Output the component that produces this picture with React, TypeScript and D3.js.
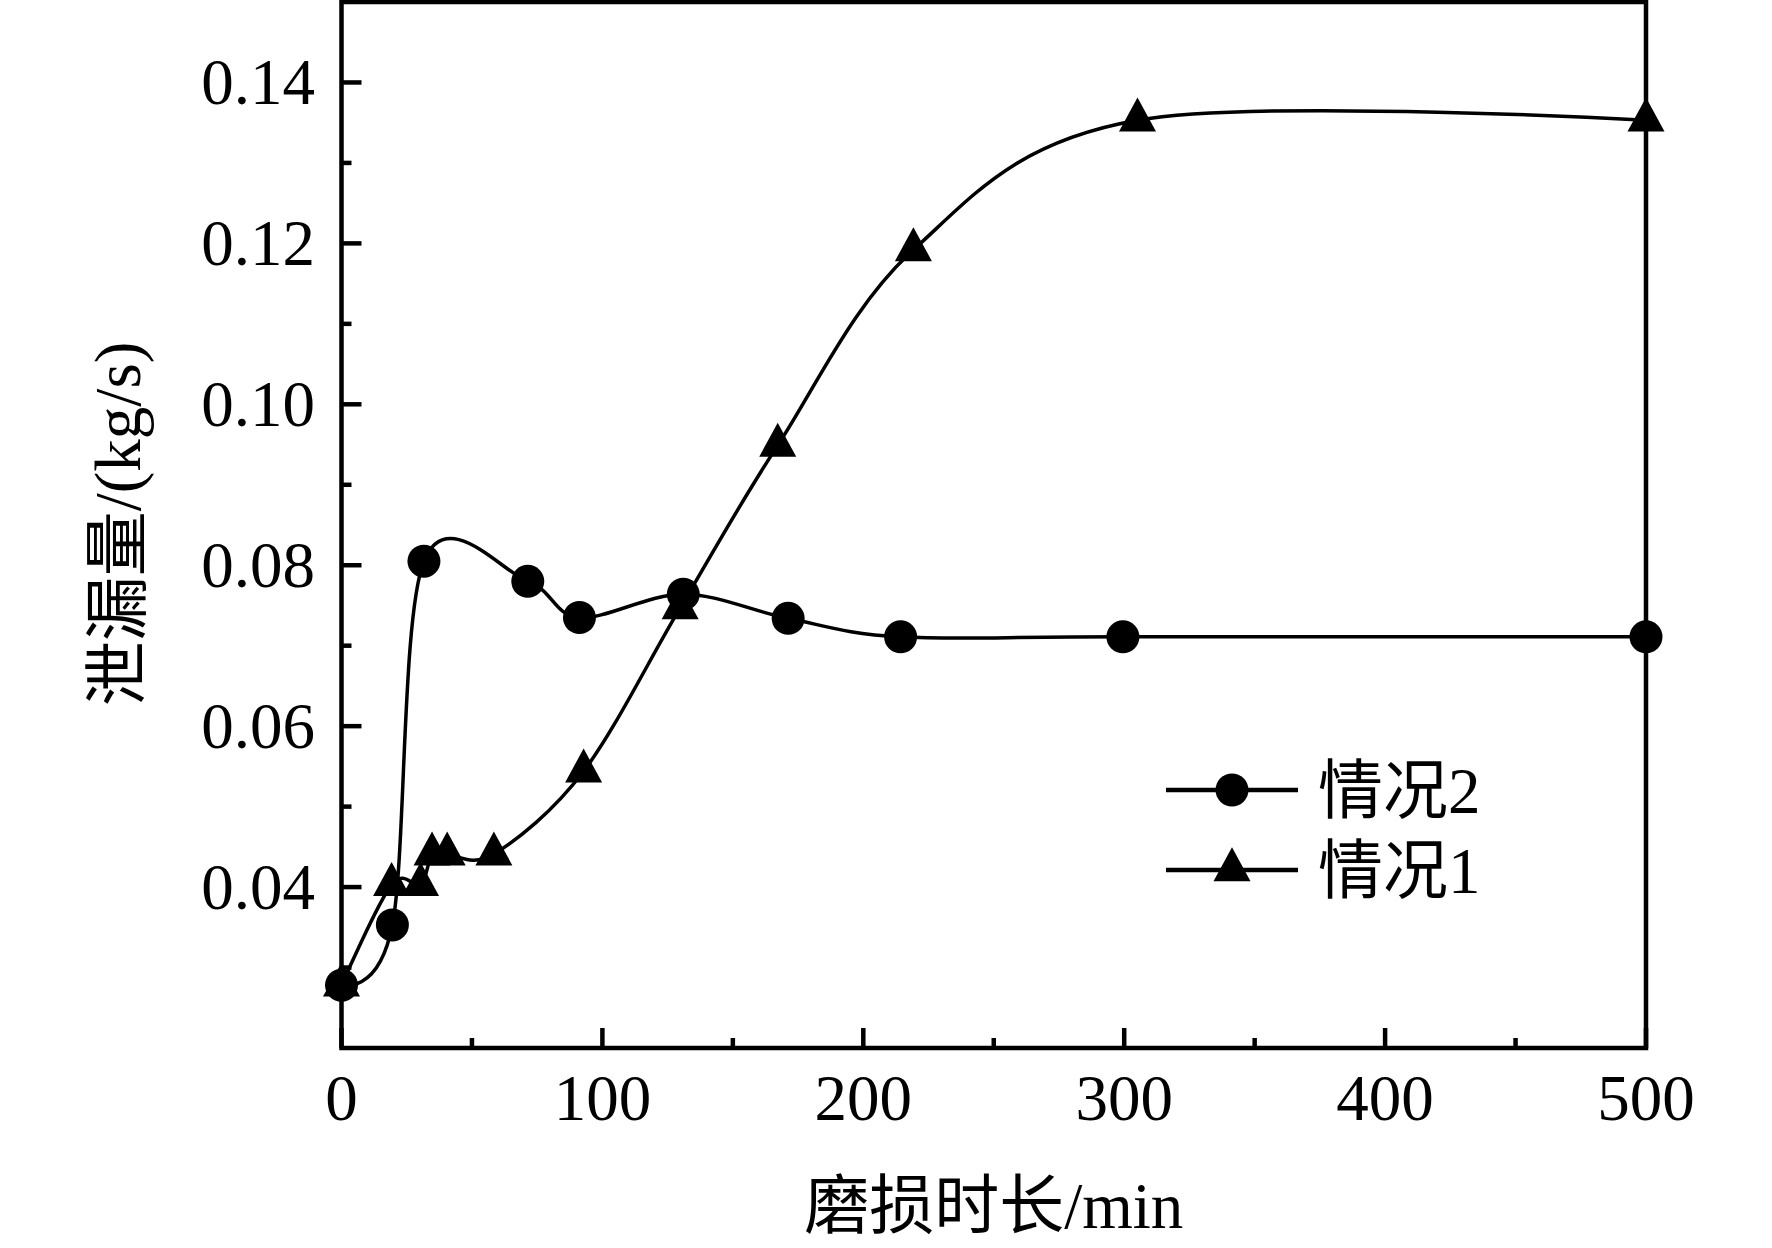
import React from "react";
import * as d3 from "d3";

// ---- data ----
const case2X = [0, 19.5, 31.6, 71.4, 91.2, 131, 171.2, 214.3, 299.5, 500];
const case2Y = [0.0278, 0.0353, 0.0805, 0.078, 0.0735, 0.0764, 0.0734, 0.0711, 0.0711, 0.0711];
const case1X = [0, 19.2, 30.3, 34.7, 40.5, 58.4, 92.8, 129.8, 167.2, 219.2, 305.1, 500];
const case1Y = [0.0278, 0.0403, 0.0403, 0.0441, 0.0441, 0.0441, 0.0544, 0.0747, 0.0949, 0.1192, 0.1353, 0.1353];
const xTicks = [0, 100, 200, 300, 400, 500];
const xMinorTicks = [50, 150, 250, 350, 450];
const yTicks = [0.04, 0.06, 0.08, 0.1, 0.12, 0.14];
const yMinorTicks = [0.03, 0.05, 0.07, 0.09, 0.11, 0.13];
const legendLabels = ["情况2", "情况1"];
const xTitle = "磨损时长/min";
const yTitle = "泄漏量/(kg/s)";

const W = 1772;
const H = 1248;
const FONT = "'Liberation Serif', 'Times New Roman', 'Noto Sans CJK SC', serif";

export default function App() {
  React.useEffect(() => {
    document.body.style.margin = "0";
  }, []);

  const x = d3.scaleLinear().domain([0, 500]).range([341.5, 1646]);
  const y = d3.scaleLinear().domain([0.02, 0.15]).range([1048, 2]);

  const mk = (xs: number[], ys: number[]) =>
    d3
      .line<number>()
      .curve(d3.curveCatmullRom.alpha(0))
      .x((_, i) => x(xs[i]))
      .y((_, i) => y(ys[i]))(xs) || "";

  const path2 = mk(case2X, case2Y);
  const path1 = mk(case1X, case1Y);

  const R = 16.5;
  const TW = 37;
  const TH = 34;
  const tri = (cx: number, cy: number) =>
    `M${cx},${cy - (2 * TH) / 3}L${cx + TW / 2},${cy + TH / 3}L${cx - TW / 2},${cy + TH / 3}Z`;

  const axisStroke = 4.5;
  const lineW = 3.5;
  const fs = 65;

  const legX0 = 1166;
  const legX1 = 1298;
  const legY = [790, 870];

  return (
    <svg width={W} height={H} style={{ display: "block", background: "#fff" }} fontFamily={FONT}>
      <rect x={0} y={0} width={W} height={H} fill="#fff" />
      {/* series 1 (triangles) */}
      <path d={path1} fill="none" stroke="#000" strokeWidth={lineW} />
      {case1X.map((v, i) => (
        <path key={"t" + i} d={tri(x(v), y(case1Y[i]))} fill="#000" />
      ))}
      {/* series 2 (circles) */}
      <path d={path2} fill="none" stroke="#000" strokeWidth={lineW} />
      {case2X.map((v, i) => (
        <circle key={"c" + i} cx={x(v)} cy={y(case2Y[i])} r={R} fill="#000" />
      ))}

      {/* frame */}
      <rect
        x={x(0)}
        y={y(0.15)}
        width={x(500) - x(0)}
        height={y(0.02) - y(0.15)}
        fill="none"
        stroke="#000"
        strokeWidth={axisStroke}
      />
      {/* x ticks */}
      {xTicks.map((t) => (
        <g key={"xt" + t}>
          <line x1={x(t)} x2={x(t)} y1={y(0.02)} y2={y(0.02) - 20} stroke="#000" strokeWidth={axisStroke} />
          <text x={x(t)} y={1120} fontSize={fs} textAnchor="middle">
            {t}
          </text>
        </g>
      ))}
      {xMinorTicks.map((t) => (
        <line key={"xm" + t} x1={x(t)} x2={x(t)} y1={y(0.02)} y2={y(0.02) - 10} stroke="#000" strokeWidth={axisStroke} />
      ))}
      {/* y ticks */}
      {yTicks.map((t) => (
        <g key={"yt" + t}>
          <line x1={x(0)} x2={x(0) + 20} y1={y(t)} y2={y(t)} stroke="#000" strokeWidth={axisStroke} />
          <text x={315} y={y(t) + 22} fontSize={fs} textAnchor="end">
            {d3.format(".2f")(t)}
          </text>
        </g>
      ))}
      {yMinorTicks.map((t) => (
        <line key={"ym" + t} x1={x(0)} x2={x(0) + 10} y1={y(t)} y2={y(t)} stroke="#000" strokeWidth={axisStroke} />
      ))}

      {/* axis titles */}
      <text x={(x(0) + x(500)) / 2} y={1228} fontSize={fs} textAnchor="middle">
        {xTitle}
      </text>
      <text transform={`translate(140,524) rotate(-90)`} fontSize={fs} textAnchor="middle">
        {yTitle}
      </text>

      {/* legend */}
      {legendLabels.map((lab, i) => (
        <g key={"lg" + i}>
          <line x1={legX0} x2={legX1} y1={legY[i]} y2={legY[i]} stroke="#000" strokeWidth={lineW + 1} />
          {i === 0 ? (
            <circle cx={(legX0 + legX1) / 2} cy={legY[i]} r={R} fill="#000" />
          ) : (
            <path d={tri((legX0 + legX1) / 2, legY[i])} fill="#000" />
          )}
          <text x={1318} y={legY[i] + 23} fontSize={fs}>
            {lab}
          </text>
        </g>
      ))}
    </svg>
  );
}
